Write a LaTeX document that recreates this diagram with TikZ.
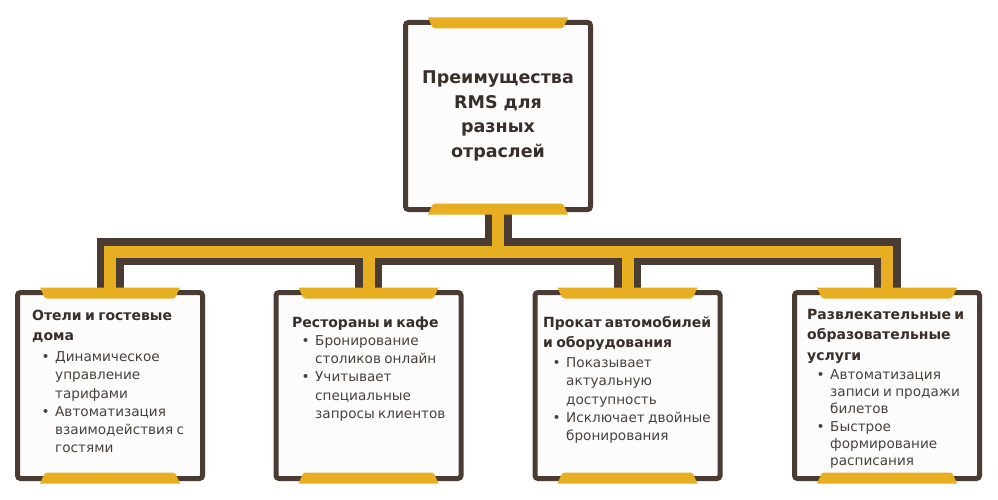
\documentclass[tikz,border=0pt]{standalone}
\usepackage{fontspec}
\setmainfont{DejaVu Sans}
\usetikzlibrary{calc}
\definecolor{dk}{HTML}{4A3C32}
\definecolor{gd}{HTML}{E8AE22}
\definecolor{fl}{HTML}{FCFCFC}
\definecolor{tx}{HTML}{3A2E28}
\definecolor{txb}{HTML}{4B4039}
\pgfdeclarelayer{bg}
\pgfsetlayers{bg,main}
\newcommand{\hdf}{\fontsize{14}{20.5}\selectfont\bfseries\color{tx}}
\newcommand{\bdf}[1]{\fontsize{13.6}{#1}\selectfont\mdseries\color{txb}}
\newcommand{\bul}{\par\hangindent=23pt\hangafter=0\noindent\llap{\makebox[13.5pt][l]{\textbullet}}}
\newcommand{\tabs}[1]{%
  \begin{scope}[shift={(#1.north)}]
    \fill[gd] (-70,-2.5) -- (70,-2.5) [rounded corners=2.5pt] -- (65,8.5) -- (-65,8.5) [sharp corners] -- cycle;
  \end{scope}
  \begin{scope}[shift={(#1.south)}]
    \fill[gd] (-70,2.5) -- (70,2.5) [rounded corners=2.5pt] -- (65,-8.5) -- (-65,-8.5) [sharp corners] -- cycle;
  \end{scope}}
\begin{document}
\begin{tikzpicture}[x=1pt,y=-1pt,
  box/.style={draw=dk, fill=fl, line width=5pt, rounded corners=3pt,
    minimum width=185pt, minimum height=186pt, inner sep=0pt},
  txt/.style={anchor=north west, inner sep=0pt, text width=200pt},
  pipeo/.style={draw=dk, line width=27pt, line join=miter},
  pipei/.style={draw=gd, line width=12pt, line join=miter}]
\begin{pgfonlayer}{bg}
\fill[white] (0,0) rectangle (998,500);
\end{pgfonlayer}
\useasboundingbox (0,0) rectangle (998,500);
\coordinate (busy) at (0,251.5);
% boxes
\node[box, minimum height=187pt, align=center,
  font=\fontsize{17.5}{24.5}\selectfont\bfseries, text=tx] (top) at (498,116)
  {Преимущества\\RMS для\\разных\\отраслей};
\node[box] (b1) at (110,385.5) {};
\node[box] (b2) at (368.5,385.5) {};
\node[box] (b3) at (627.5,385.5) {};
\node[box] (b4) at (887,385.5) {};
% connectors
\begin{pgfonlayer}{bg}
  \foreach \s in {pipeo,pipei}{
    \draw[\s] (b1.north) -- (b1.north |- busy) -- (b4.north |- busy) -- (b4.north);
    \draw[\s] (top.south) -- (top.south |- busy);
    \draw[\s] (b2.north |- busy) -- (b2.north);
    \draw[\s] (b3.north |- busy) -- (b3.north);
  }
\end{pgfonlayer}
\tabs{top}\tabs{b1}\tabs{b2}\tabs{b3}\tabs{b4}
% texts
\node[txt] (t1) at (32,305) {\hdf\noindent\rule{0pt}{15pt}Отели и гостевые\newline дома\par
  \vspace{2.8pt}\bdf{18.2}%
  \bul Динамическое\newline управление\newline тарифами
  \bul Автоматизация\newline взаимодействия с\newline гостями\par};
\node[txt] (t2) at (292,312) {\hdf\noindent\rule{0pt}{15pt}Рестораны и кафе\par
  \vspace{0pt}\bdf{18.2}%
  \bul Бронирование\newline столиков онлайн
  \bul Учитывает\newline специальные\newline запросы клиентов\par};
\node[txt] (t3) at (543,312) {\hdf\noindent\rule{0pt}{15pt}Прокат автомобилей\newline и оборудования\par
  \vspace{1.8pt}\bdf{18.2}%
  \bul Показывает\newline актуальную\newline доступность
  \bul Исключает двойные\newline бронирования\par};
\node[txt] (t4) at (807,304) {\hdf\noindent\rule{0pt}{15pt}Развлекательные и\newline образовательные\newline услуги\par
  \vspace{1.7pt}\bdf{17.3}%
  \bul Автоматизация\newline записи и продажи\newline билетов
  \bul Быстрое\newline формирование\newline расписания\par};
\end{tikzpicture}
\end{document}
